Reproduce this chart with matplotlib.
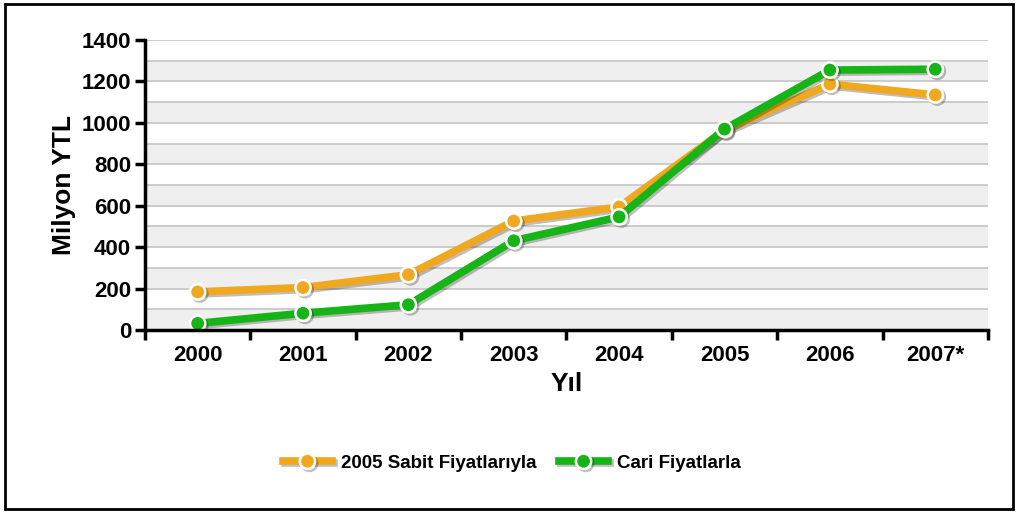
import matplotlib.pyplot as plt
import matplotlib.patheffects as pe
from matplotlib.patches import Rectangle
import numpy as np

plt.rcParams["font.family"] = ["Liberation Sans", "DejaVu Sans"]

years = ['2000', '2001', '2002', '2003', '2004', '2005', '2006', '2007*']
sabit = [184, 205, 267, 526, 594, 965, 1187, 1135]   # 2005 Sabit Fiyatlarıyla
cari = [32, 81, 122, 431, 546, 970, 1255, 1259]     # Cari Fiyatlarla

ORANGE = '#F0A820'
GREEN = '#17B417'


def main():
    fig = plt.figure(figsize=(10.18, 5.13), dpi=100)
    ax = fig.add_axes([0.1424, 0.3567, 0.8281, 0.5653])

    # alternating bands + gridlines every 100
    for lo in range(0, 1400, 200):
        ax.axhspan(lo, lo + 100, color='#EFEFEF', zorder=0, lw=0)
    for v in range(100, 1401, 100):
        ax.axhline(v, color='#C4C4C4', lw=1.2, zorder=1)

    x = np.arange(len(years))
    shadow = [pe.SimpleLineShadow(offset=(1.5, -1.5), shadow_color='black', alpha=0.25), pe.Normal()]
    for vals, col, lab, z in [(sabit, ORANGE, '2005 Sabit Fiyatlarıyla', 3), (cari, GREEN, 'Cari Fiyatlarla', 4)]:
        ax.plot(x, vals, color=col, lw=5.5, marker='o', markersize=11,
                markerfacecolor=col, markeredgecolor='white', markeredgewidth=1.8,
                label=lab, zorder=z, path_effects=shadow, solid_joinstyle='round')

    ax.set_xlim(-0.5, 7.5)
    ax.set_ylim(0, 1400)
    ax.set_yticks(range(0, 1401, 200))
    ax.set_xticks(x)
    ax.set_xticklabels(years)
    ax.set_xticks(np.arange(-0.5, 7.6, 1), minor=True)
    ax.tick_params(axis='x', which='major', length=0, pad=11, labelsize=16)
    ax.tick_params(axis='x', which='minor', length=7, width=2.5, direction='out')
    ax.tick_params(axis='y', length=7, width=2.5, labelsize=16, pad=3)
    for lbl in ax.get_xticklabels() + ax.get_yticklabels():
        lbl.set_fontweight('bold')

    for s in ['top', 'right']:
        ax.spines[s].set_visible(False)
    for s in ['left', 'bottom']:
        ax.spines[s].set_linewidth(2.5)
        ax.spines[s].set_zorder(5)

    ax.set_ylabel('Milyon YTL', fontsize=19, fontweight='bold', labelpad=4)
    ax.set_xlabel('Yıl', fontsize=19, fontweight='bold', labelpad=4)

    fig.legend(loc='center', bbox_to_anchor=(0.503, 0.097), ncol=2, frameon=False,
               prop={'size': 13.5, 'weight': 'bold'}, handlelength=2.6, columnspacing=1.2,
               handletextpad=0.5)

    fig.patches.append(Rectangle((5 / 1018, 4 / 513), 1008 / 1018, 505 / 513,
                                 transform=fig.transFigure, fill=False, ec='black', lw=2))

    fig.savefig('out.png', dpi=100)


if __name__ == '__main__':
    main()
